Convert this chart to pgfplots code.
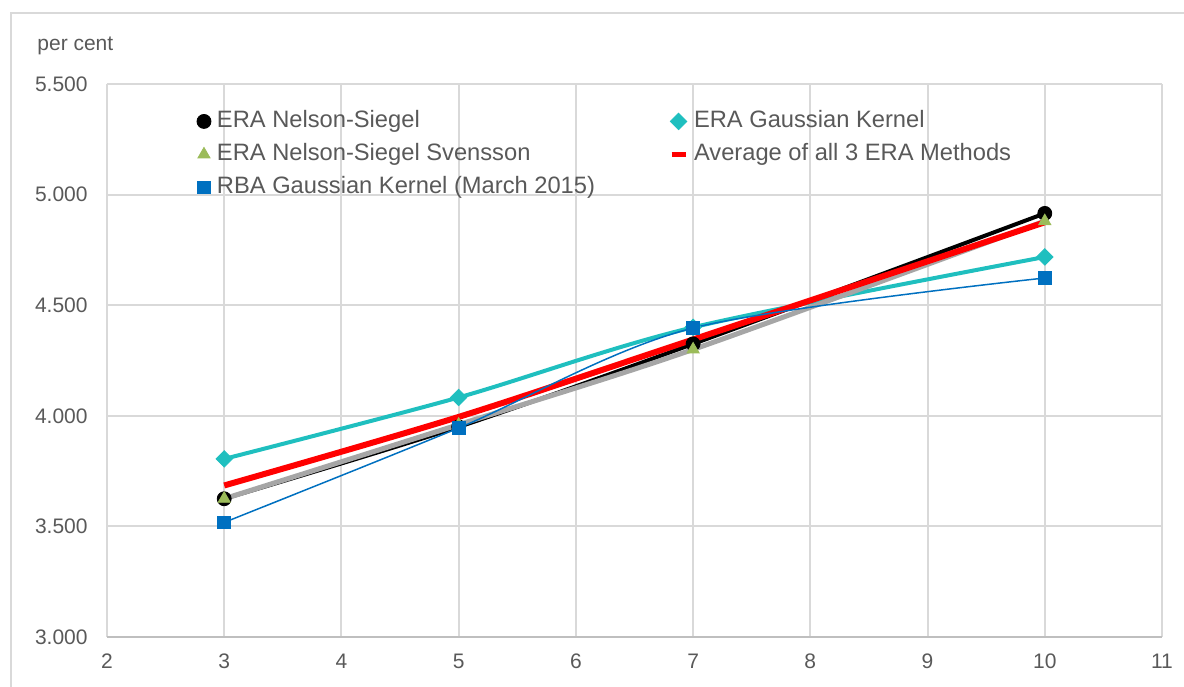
\documentclass[border=0pt]{standalone}
\usepackage{fontspec}
\setmainfont{Liberation Sans}
\usepackage{pgfplots}
\usepackage{pgfplotstable}
\pgfplotsset{compat=1.18}
\definecolor{gridc}{HTML}{D9D9D9}
\definecolor{axc}{HTML}{BFBFBF}
\definecolor{txt}{HTML}{595959}
\definecolor{cyanc}{HTML}{1FBFBF}
\definecolor{greenc}{HTML}{9BBB59}
\definecolor{grayc}{HTML}{A6A6A6}
\definecolor{bluec}{HTML}{0070C0}
\pgfplotsset{
  marklegend/.style={legend image code/.code={\draw[mark repeat=2,mark phase=2,##1] plot coordinates {(0pt,0pt) (3.5pt,0pt) (7pt,0pt)};}},
  dashlegend/.style={legend image code/.code={\draw[##1, line width=2.5pt] (0pt,0pt) -- (7pt,0pt);}},
}
\pgfplotstableread{
x  ns     gk     nss    avg    rba
3  3.625  3.805  3.625  3.685  3.518
5  3.950  4.083  3.960  3.995  3.945
7  4.325  4.400  4.300  4.345  4.397
10 4.915  4.718  4.880  4.875  4.623
}\data
\begin{document}
\begin{tikzpicture}
\useasboundingbox (0,0) rectangle (592pt,343pt);
\begin{scope}
\clip (0,0) rectangle (592pt,343pt);
\draw[gridc, line width=1pt] (5.5pt,-10pt) rectangle (600pt,336.5pt);
\end{scope}
\node[anchor=west, font=\fontsize{10.5}{12}\selectfont, text=txt, inner sep=0pt] at (18.5pt,320pt) {per cent};
\begin{axis}[
 at={(53.5pt,24.5pt)}, anchor=south west,
 width=527.5pt, height=276.5pt, scale only axis,
 xmin=2, xmax=11, ymin=3, ymax=5.5,
 xtick={2,3,...,11}, ytick={3,3.5,...,5.5},
 grid=major, major grid style={gridc, line width=1pt},
 axis x line*=bottom, axis y line*=left,
 x axis line style={axc, line width=1.2pt, -},
 y axis line style={draw=none},
 major tick length=0pt,
 tick label style={font=\fontsize{10.5}{12}\selectfont, text=txt},
 /pgf/number format/assume math mode=true,
 y tick label style={/pgf/number format/.cd, fixed, fixed zerofill, precision=3, /tikz/.cd, inner xsep=0pt, xshift=-9.5pt},
 x tick label style={yshift=-4.75pt},
 legend columns=2, legend cell align=left,
 legend style={draw=none, fill=none, at={(0.0853,0.954)}, anchor=north west,
   inner sep=0pt, outer sep=0pt, font=\fontsize{11.85}{14}\selectfont, text=txt,
   row sep=4.5pt, /tikz/column 2/.style={column sep=34pt},
   nodes={inner xsep=3pt, inner ysep=0pt, text height=9pt, text depth=3pt}},
]
% ERA Nelson-Siegel
\addplot[black, line width=2pt, smooth, forget plot] table[x=x,y=ns] {\data};
\addplot[only marks, mark=*, mark size=3.5pt, black, marklegend] table[x=x,y=ns] {\data};
\addlegendentry{ERA Nelson-Siegel}
% ERA Gaussian Kernel
\addplot[cyanc, line width=2pt, smooth, forget plot] table[x=x,y=gk] {\data};
\addplot[only marks, mark=square*, mark size=2.9pt, mark options={rotate=45}, cyanc, marklegend] table[x=x,y=gk] {\data};
\addlegendentry{ERA Gaussian Kernel}
% ERA Nelson-Siegel Svensson
\addplot[grayc, line width=2.5pt, smooth, forget plot] table[x=x,y=nss] {\data};
\addplot[only marks, mark=triangle*, mark size=3.5pt, greenc, marklegend] table[x=x,y=nss] {\data};
\addlegendentry{ERA Nelson-Siegel Svensson}
% Average
\addplot[red, line width=3pt, smooth, dashlegend] table[x=x,y=avg] {\data};
\addlegendentry{Average of all 3 ERA Methods}
% RBA
\addplot[bluec, line width=0.75pt, smooth, forget plot] table[x=x,y=rba] {\data};
\addplot[only marks, mark=square*, mark size=3.2pt, bluec, marklegend] table[x=x,y=rba] {\data};
\addlegendentry{RBA Gaussian Kernel (March 2015)}
\end{axis}
\end{tikzpicture}
\end{document}
